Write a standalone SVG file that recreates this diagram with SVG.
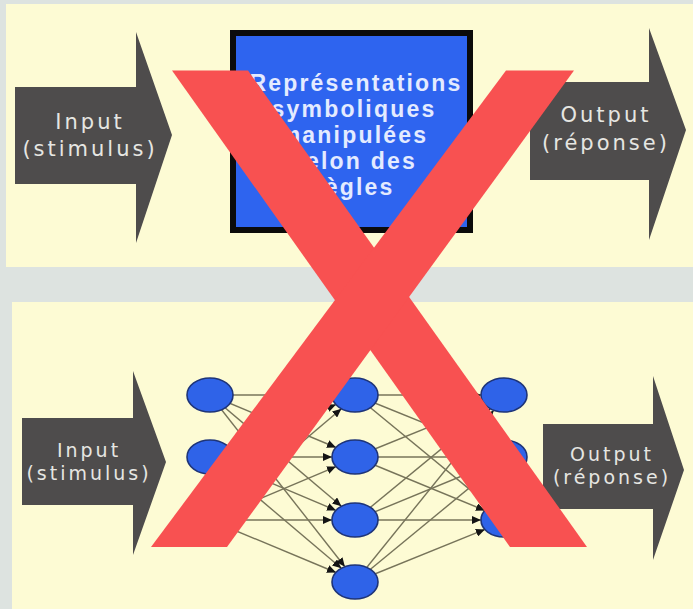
<svg xmlns="http://www.w3.org/2000/svg" width="693" height="609" viewBox="0 0 693 609">
  <style>
    .panel { fill: #fdfbd4; }
    .arrow { fill: #4e4c4c; }
    .lbl { font-family: "DejaVu Sans", "Liberation Sans", sans-serif; fill: #e6e6e2; text-anchor: middle; letter-spacing: 3px; }
    .box-text { font-family: "Liberation Sans", Arial, sans-serif; font-weight: bold; font-size: 23px; fill: #e4ebff; text-anchor: middle; letter-spacing: 2.2px; }
    .edge { stroke: #77745a; stroke-width: 1.4; fill: none; marker-end: url(#tip); }
    .neuron { fill: #2f63e8; stroke: #1e3478; stroke-width: 1.6; }
    .cross { fill: #f85151; }
  </style>
  <defs>
    <marker id="tip" markerUnits="userSpaceOnUse" markerWidth="9" markerHeight="8" refX="9" refY="4" orient="auto">
      <path d="M0,0 L9,4 L0,8 z" fill="#141414"/>
    </marker>
  </defs>

  <!-- backdrop and the two panels -->
  <rect width="693" height="609" fill="#dde3e0"/>
  <rect class="panel" x="6" y="4" width="687" height="263"/>
  <rect class="panel" x="12" y="302" width="681" height="307"/>

  <!-- upper panel: symbolic model -->
  <g id="input-top">
    <polygon class="arrow" points="15,87 136,87 136,32 172,135 136,243 136,184 15,184"/>
    <text class="lbl" x="90" y="129" font-size="21">Input</text>
    <text class="lbl" x="90" y="156" font-size="21">(stimulus)</text>
  </g>

  <g id="symbol-box">
    <rect x="233" y="33" width="237" height="197" fill="#2e64ef" stroke="#0b0b0b" stroke-width="6"/>
    <text class="box-text" x="356" y="91">Représentations</text>
    <text class="box-text" x="354" y="117">symboliques</text>
    <text class="box-text" x="354" y="143">manipulées</text>
    <text class="box-text" x="354" y="169">selon des</text>
    <text class="box-text" x="354" y="195">règles</text>
  </g>

  <g id="output-top">
    <polygon class="arrow" points="530,82 649,82 649,28 686,130 649,240 649,180 530,180"/>
    <text class="lbl" x="606" y="122" font-size="21">Output</text>
    <text class="lbl" x="606" y="150" font-size="21">(réponse)</text>
  </g>

  <!-- lower panel: connectionist network -->
  <g id="input-bottom">
    <polygon class="arrow" points="22,418 133,418 133,371 166,462 133,555 133,505 22,505"/>
    <text class="lbl" x="89" y="457" font-size="19">Input</text>
    <text class="lbl" x="89" y="480" font-size="19">(stimulus)</text>
  </g>

  <g id="output-bottom">
    <polygon class="arrow" points="543,424 653,424 653,376 684,470 653,560 653,509 543,509"/>
    <text class="lbl" x="612" y="461" font-size="19">Output</text>
    <text class="lbl" x="612" y="484" font-size="19">(réponse)</text>
  </g>

  <g id="connections">
    <!-- input layer to hidden layer -->
    <line class="edge" x1="210" y1="395" x2="332" y2="395"/>
    <line class="edge" x1="210" y1="395" x2="336" y2="447.5"/>
    <line class="edge" x1="210" y1="395" x2="341.4" y2="506.3"/>
    <line class="edge" x1="210" y1="395" x2="344.9" y2="566.7"/>
    <line class="edge" x1="210" y1="457" x2="336" y2="404.5"/>
    <line class="edge" x1="210" y1="457" x2="332" y2="457"/>
    <line class="edge" x1="210" y1="457" x2="336" y2="510.4"/>
    <line class="edge" x1="210" y1="457" x2="341.4" y2="568.3"/>
    <line class="edge" x1="210" y1="520" x2="341.4" y2="408.7"/>
    <line class="edge" x1="210" y1="520" x2="336" y2="466.6"/>
    <line class="edge" x1="210" y1="520" x2="332" y2="520"/>
    <line class="edge" x1="210" y1="520" x2="336" y2="572.5"/>
    <!-- hidden layer to output layer -->
    <line class="edge" x1="355" y1="395" x2="481" y2="395"/>
    <line class="edge" x1="355" y1="395" x2="484.9" y2="447.6"/>
    <line class="edge" x1="355" y1="395" x2="490.3" y2="506.4"/>
    <line class="edge" x1="355" y1="457" x2="484.9" y2="404.4"/>
    <line class="edge" x1="355" y1="457" x2="481" y2="457"/>
    <line class="edge" x1="355" y1="457" x2="484.9" y2="510.5"/>
    <line class="edge" x1="355" y1="520" x2="490.3" y2="408.6"/>
    <line class="edge" x1="355" y1="520" x2="484.9" y2="466.5"/>
    <line class="edge" x1="355" y1="520" x2="481" y2="520"/>
    <line class="edge" x1="355" y1="582" x2="493.7" y2="410.2"/>
    <line class="edge" x1="355" y1="582" x2="490.3" y2="470.6"/>
    <line class="edge" x1="355" y1="582" x2="484.9" y2="529.4"/>
  </g>

  <g id="layer-in">
    <ellipse id="n-in-1" class="neuron" cx="210" cy="395" rx="23" ry="17"/>
    <ellipse id="n-in-2" class="neuron" cx="210" cy="457" rx="23" ry="17"/>
    <ellipse id="n-in-3" class="neuron" cx="210" cy="520" rx="23" ry="17"/>
  </g>
  <g id="layer-hidden">
    <ellipse id="n-hid-1" class="neuron" cx="355" cy="395" rx="23" ry="17"/>
    <ellipse id="n-hid-2" class="neuron" cx="355" cy="457" rx="23" ry="17"/>
    <ellipse id="n-hid-3" class="neuron" cx="355" cy="520" rx="23" ry="17"/>
    <ellipse id="n-hid-4" class="neuron" cx="355" cy="582" rx="23" ry="17"/>
  </g>
  <g id="layer-out">
    <ellipse id="n-out-1" class="neuron" cx="504" cy="395" rx="23" ry="17"/>
    <ellipse id="n-out-2" class="neuron" cx="504" cy="457" rx="23" ry="17"/>
    <ellipse id="n-out-3" class="neuron" cx="504" cy="520" rx="23" ry="17"/>
  </g>

  <!-- large red cross over everything -->
  <g id="cross">
    <polygon class="cross" points="172,70.5 248,70.5 587,547 510,547"/>
    <polygon class="cross" points="506,70.5 574,70.5 227,547 151,547"/>
  </g>
</svg>
